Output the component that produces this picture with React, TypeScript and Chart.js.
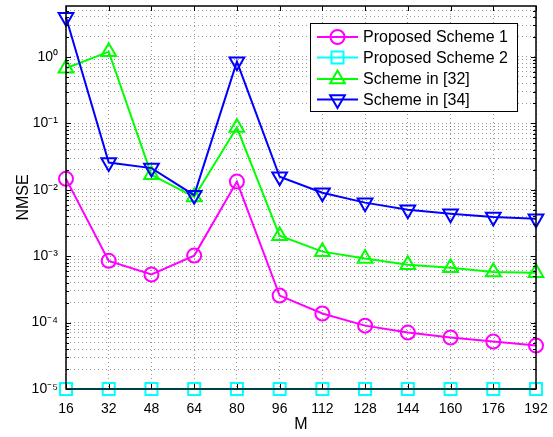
import React, { useEffect, useRef } from "react";
import { Chart, registerables } from "chart.js";
import { drawPoint } from "chart.js/helpers";

Chart.register(...registerables);

const mValues = ["16", "32", "48", "64", "80", "96", "112", "128", "144", "160", "176", "192"];
const proposedScheme1 = [0.0146, 0.00085, 0.00053, 0.00102, 0.0133, 0.000255, 0.000137, 0.00009, 0.0000708, 0.0000596, 0.0000518, 0.0000451];
const proposedScheme2 = [1e-5, 1e-5, 1e-5, 1e-5, 1e-5, 1e-5, 1e-5, 1e-5, 1e-5, 1e-5, 1e-5, 1e-5];
const scheme32 = [0.676, 1.2, 0.0168, 0.0078, 0.0865, 0.00203, 0.00117, 0.00092, 0.000745, 0.00067, 0.00058, 0.000565];
const scheme34 = [3.95, 0.0257, 0.0212, 0.0083, 0.85, 0.0157, 0.009, 0.0064, 0.005, 0.00436, 0.0039, 0.00366];
const seriesLabels = ["Proposed Scheme 1", "Proposed Scheme 2", "Scheme in [32]", "Scheme in [34]"];
const yMin = 1e-5;
const yMax = 5.85;

const FONT = "'Liberation Sans', Arial, Helvetica, sans-serif";
const SUP: Record<string, string> = { "-": "\u207B", "0": "\u2070", "1": "\u00B9", "2": "\u00B2", "3": "\u00B3", "4": "\u2074", "5": "\u2075", "6": "\u2076", "7": "\u2077", "8": "\u2078", "9": "\u2079" };
const sup = (s: string) => s.split("").map((c) => SUP[c] || c).join("");

const isMajor = (v: number) => Math.abs(Math.log10(v) - Math.round(Math.log10(v))) < 1e-6;

const boxAndTicks = {
  id: "boxAndTicks",
  afterDatasetsDraw(chart: any) {
    const { ctx, chartArea: a } = chart;
    ctx.save();
    ctx.strokeStyle = "#000";
    ctx.lineWidth = 1;
    const xs = chart.scales.x;
    const ys = chart.scales.y;
    ctx.beginPath();
    xs.ticks.forEach((_t: any, i: number) => {
      const px = Math.round(xs.getPixelForTick(i)) + 0.5;
      ctx.moveTo(px, a.bottom);
      ctx.lineTo(px, a.bottom - 5);
      ctx.moveTo(px, a.top);
      ctx.lineTo(px, a.top + 5);
    });
    ys.ticks.forEach((t: any) => {
      const py = Math.round(ys.getPixelForValue(t.value)) + 0.5;
      const len = isMajor(t.value) ? 5 : 3;
      ctx.moveTo(a.left, py);
      ctx.lineTo(a.left + len, py);
      ctx.moveTo(a.right, py);
      ctx.lineTo(a.right - len, py);
    });
    ctx.stroke();
    ctx.lineWidth = 1.5;
    ctx.strokeRect(a.left, a.top, a.right - a.left, a.bottom - a.top);
    ctx.restore();
  },
};

const boxLegend = {
  id: "boxLegend",
  afterDraw(chart: any) {
    const { ctx } = chart;
    const x0 = 310, y0 = 23, w = 207, h = 88;
    ctx.save();
    ctx.fillStyle = "#fff";
    ctx.fillRect(x0, y0, w, h);
    ctx.strokeStyle = "#000";
    ctx.lineWidth = 1;
    ctx.strokeRect(x0 + 0.5, y0 + 0.5, w, h);
    ctx.font = "16px " + FONT;
    ctx.textBaseline = "middle";
    ctx.textAlign = "left";
    const ds = chart.data.datasets;
    const rowY = [37, 57.5, 79, 99.5];
    ds.forEach((d: any, i: number) => {
      const y = rowY[i];
      ctx.strokeStyle = d.borderColor;
      ctx.lineWidth = 2;
      ctx.beginPath();
      ctx.moveTo(317, y);
      ctx.lineTo(358, y);
      ctx.stroke();
      ctx.fillStyle = "transparent";
      ctx.lineWidth = d.pointBorderWidth;
      drawPoint(ctx, { pointStyle: d.pointStyle, rotation: d.pointRotation || 0, radius: d.pointRadius, borderWidth: d.pointBorderWidth } as any, 337.5, y);
      ctx.fillStyle = "#000";
      ctx.fillText(d.label, 363, y + 1);
    });
    ctx.restore();
  },
};

export default function App() {
  const ref = useRef<HTMLCanvasElement | null>(null);
  useEffect(() => {
    if (!ref.current) return;
    const mk = (label: string, data: number[], color: string, style: string, r: number, order: number, rot = 0) => ({
      label,
      data,
      borderColor: color,
      backgroundColor: "transparent",
      pointBackgroundColor: "transparent",
      pointBorderColor: color,
      pointStyle: style,
      pointRadius: r,
      pointRotation: rot,
      pointBorderWidth: 2,
      borderWidth: 2,
      tension: 0,
      clip: false as any,
      order,
    });
    const chart = new Chart(ref.current, {
      type: "line",
      data: {
        labels: mValues,
        datasets: [
          mk(seriesLabels[0], proposedScheme1, "#ff00ff", "circle", 7, 4),
          mk(seriesLabels[1], proposedScheme2, "#00ffff", "rect", 8.5, 3),
          mk(seriesLabels[2], scheme32, "#00ff00", "triangle", 8.5, 2),
          mk(seriesLabels[3], scheme34, "#0000ff", "triangle", 8.5, 1, 180),
        ] as any,
      },
      options: {
        responsive: false,
        animation: false,
        devicePixelRatio: 1,
        layout: { autoPadding: false, padding: { top: 6, right: 17, left: 0, bottom: 0 } },
        plugins: { legend: { display: false }, tooltip: { enabled: false } },
        scales: {
          x: {
            type: "category",
            offset: false,
            grid: { color: "rgba(0,0,0,0.4)", drawTicks: false, lineWidth: 1 },
            border: { display: false, dash: [1, 3] },
            ticks: { color: "#000", font: { size: 14, family: FONT }, padding: 12, maxRotation: 0, autoSkip: false },
            title: { display: true, text: "M", color: "#000", font: { size: 16, family: FONT }, padding: { top: 0, bottom: 3 } },
            afterFit: (s: any) => { s.height = 48; s.paddingLeft = 0; s.paddingRight = 0; },
          },
          y: {
            type: "logarithmic",
            min: yMin,
            max: yMax,
            grid: { color: "rgba(0,0,0,0.4)", drawTicks: false, lineWidth: 1 },
            border: { display: false, dash: [1, 3] },
            ticks: {
              color: "#000",
              font: { size: 14, family: FONT },
              padding: 8,
              autoSkip: false,
              callback: (v: any) => (isMajor(Number(v)) ? "10" + sup(String(Math.round(Math.log10(Number(v))))) : ""),
            },
            afterBuildTicks: (s: any) => {
              const t: any[] = [];
              for (let e = -5; e <= 0; e++) {
                for (let m = 1; m <= 9; m++) {
                  const v = m * Math.pow(10, e);
                  if (v >= yMin * 0.999 && v <= yMax) t.push({ value: v });
                }
              }
              s.ticks = t;
            },
            title: { display: true, text: "NMSE", color: "#000", font: { size: 16, family: FONT }, padding: { top: 14, bottom: 0 } },
            afterFit: (s: any) => { s.width = 66; s.paddingTop = 0; s.paddingBottom = 0; },
          },
        },
      } as any,
      plugins: [boxAndTicks, boxLegend],
    });
    return () => chart.destroy();
  }, []);
  return (
    <div style={{ position: "fixed", left: 0, top: 0, width: 553, height: 437, background: "#fff" }}>
      <canvas ref={ref} width={553} height={437} style={{ display: "block" }} />
    </div>
  );
}
